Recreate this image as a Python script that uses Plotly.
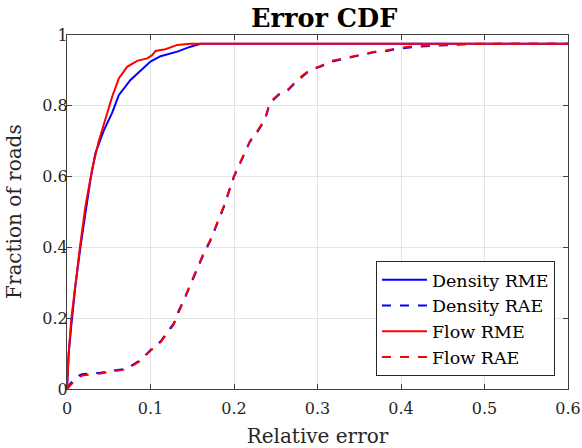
import plotly.graph_objects as go

# Data
dens_rme_x = [0, 0.002, 0.005, 0.01, 0.016, 0.022, 0.028, 0.034, 0.044, 0.054, 0.062, 0.076, 0.088, 0.10, 0.112, 0.132, 0.148, 0.16, 0.6]
dens_rme_y = [0, 0.10, 0.176, 0.29, 0.40, 0.50, 0.59, 0.666, 0.73, 0.78, 0.83, 0.873, 0.90, 0.925, 0.94, 0.953, 0.967, 0.975, 0.975]

flow_rme_x = [0, 0.002, 0.005, 0.01, 0.016, 0.022, 0.03, 0.038, 0.046, 0.054, 0.062, 0.072, 0.084, 0.096, 0.102, 0.106, 0.118, 0.132, 0.148, 0.6]
flow_rme_y = [0, 0.10, 0.195, 0.30, 0.41, 0.515, 0.62, 0.70, 0.76, 0.825, 0.877, 0.91, 0.927, 0.934, 0.943, 0.955, 0.96, 0.972, 0.975, 0.975]

dens_rae_x = [0, 0.004, 0.01, 0.018, 0.04, 0.072, 0.088, 0.10, 0.112, 0.128, 0.134, 0.14, 0.152, 0.164, 0.172, 0.188, 0.2, 0.211, 0.219, 0.229, 0.237, 0.243, 0.253, 0.265, 0.277, 0.291, 0.303, 0.317, 0.335, 0.351, 0.367, 0.383, 0.399, 0.419, 0.447, 0.479, 0.519, 0.6]
dens_rae_y = [0, 0.015, 0.033, 0.042, 0.046, 0.058, 0.082, 0.11, 0.134, 0.186, 0.223, 0.25, 0.317, 0.383, 0.42, 0.515, 0.60, 0.656, 0.698, 0.73, 0.76, 0.807, 0.83, 0.845, 0.873, 0.90, 0.91, 0.925, 0.934, 0.944, 0.951, 0.955, 0.962, 0.967, 0.971, 0.974, 0.975, 0.975]

flow_rae_x = [0, 0.004, 0.01, 0.018, 0.04, 0.072, 0.088, 0.10, 0.112, 0.128, 0.134, 0.14, 0.152, 0.164, 0.172, 0.188, 0.2, 0.211, 0.219, 0.229, 0.237, 0.243, 0.253, 0.265, 0.277, 0.291, 0.303, 0.317, 0.335, 0.351, 0.367, 0.383, 0.399, 0.419, 0.447, 0.479, 0.519, 0.6]
flow_rae_y = [0, 0.01, 0.026, 0.038, 0.044, 0.056, 0.08, 0.108, 0.132, 0.183, 0.22, 0.252, 0.32, 0.386, 0.423, 0.518, 0.602, 0.658, 0.70, 0.733, 0.763, 0.81, 0.832, 0.847, 0.876, 0.902, 0.912, 0.927, 0.936, 0.946, 0.952, 0.957, 0.964, 0.969, 0.972, 0.975, 0.975, 0.975]

x_ticks = [0, 0.1, 0.2, 0.3, 0.4, 0.5, 0.6]
x_labels = ["0", "0.1", "0.2", "0.3", "0.4", "0.5", "0.6"]
y_ticks = [0, 0.2, 0.4, 0.6, 0.8, 1]
y_labels = ["0", "0.2", "0.4", "0.6", "0.8", "1"]

FONT = "DejaVu Serif"

fig = go.Figure()
fig.add_trace(go.Scatter(x=dens_rme_x, y=dens_rme_y, mode="lines", name="Density RME",
                         line=dict(color="#0000ff", width=2)))
fig.add_trace(go.Scatter(x=dens_rae_x, y=dens_rae_y, mode="lines", name="Density RAE",
                         line=dict(color="#0000ff", width=2, dash="dash")))
fig.add_trace(go.Scatter(x=flow_rme_x, y=flow_rme_y, mode="lines", name="Flow RME",
                         line=dict(color="#ff0000", width=2)))
fig.add_trace(go.Scatter(x=flow_rae_x, y=flow_rae_y, mode="lines", name="Flow RAE",
                         line=dict(color="#ff0000", width=2, dash="dash")))

axis_common = dict(
    showgrid=True, gridcolor="#e3e3e3", gridwidth=1,
    showline=True, linecolor="#404040", linewidth=1, mirror="ticks",
    ticks="inside", ticklen=5, tickcolor="#404040",
    zeroline=False, automargin=False,
    tickfont=dict(family=FONT, size=16, color="#262626"),
)

fig.update_layout(
    width=582, height=448,
    margin=dict(l=67, r=14, t=35, b=59),
    paper_bgcolor="white", plot_bgcolor="white",
    title=dict(text="<b>Error CDF</b>", x=0.557, xanchor="center", y=0.96, yanchor="middle",
               font=dict(family=FONT, size=25.5, color="black")),
    xaxis=dict(range=[0, 0.6], tickvals=x_ticks, ticktext=x_labels, ticklabelstandoff=5,
               title=dict(text="Relative error", font=dict(family=FONT, size=20, color="#262626"), standoff=11),
               **axis_common),
    yaxis=dict(range=[0, 1], tickvals=y_ticks, ticktext=y_labels, ticklabelstandoff=-5,
               **axis_common),
    annotations=[dict(text="Fraction of roads", textangle=-90, xref="paper", yref="paper",
                      x=0, y=0.5, xanchor="center", yanchor="middle", xshift=-53,
                      showarrow=False, font=dict(family=FONT, size=20, color="#262626"))],
    legend=dict(x=0.974, xanchor="right", y=0.037, yanchor="bottom",
                bgcolor="white", bordercolor="#262626", borderwidth=1,
                font=dict(family=FONT, size=17.5, color="black"),
                tracegroupgap=0, itemwidth=45),
    showlegend=True,
)

fig.write_html("out.html", config={"displayModeBar": False},
               post_script="document.body.style.margin='0';")
